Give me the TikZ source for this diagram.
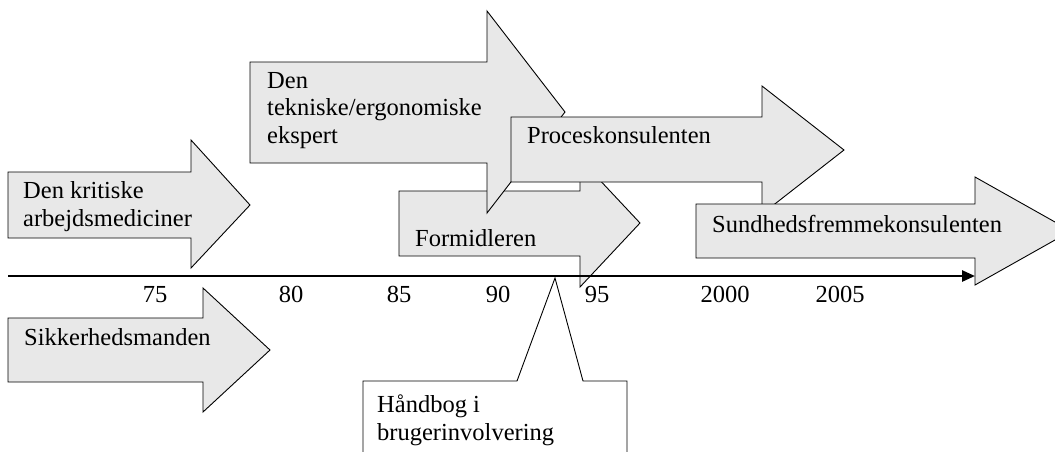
\documentclass[tikz,border=0pt]{standalone}
\usepackage{fontspec}
\setmainfont{Liberation Serif}
\usetikzlibrary{arrows.meta}
\definecolor{arrowfill}{RGB}{232,232,232}
\begin{document}
\begin{tikzpicture}[x=1pt,y=-1pt,
  blockarrow/.style={draw=black, fill=arrowfill, line width=0.9pt, line join=miter},
  % base anchor of a multi-line label sits on its last line
  lbl/.style={anchor=base west, inner sep=0pt, align=left,
    font=\fontsize{24.5}{27.5}\selectfont},
  yearlbl/.style={anchor=base, inner sep=0pt, font=\fontsize{24.5}{27.5}\selectfont},
  callout/.style={draw=black, fill=white, line width=0.9pt, line join=miter},
  timeline/.style={line width=2.6pt, -{Triangle[length=13pt,width=11pt]}}]
\useasboundingbox (0,0) rectangle (1055,451);
\clip (0,0) rectangle (1055,451);

% Block arrows, back to front
\draw[blockarrow] (8,172) -- (191,172) -- (191,140) -- (250,205) -- (191,268) -- (191,238) -- (8,238) -- cycle;
\node[lbl] (kritisk) at (23,226) {Den kritiske\\arbejdsmediciner};

\draw[blockarrow] (8,318) -- (203,318) -- (203,288) -- (270,350) -- (203,412) -- (203,382) -- (8,382) -- cycle;
\node[lbl] (sikkerhed) at (24,345) {Sikkerhedsmanden};

\draw[blockarrow] (399,191) -- (580,191) -- (580,159) -- (640,223) -- (580,287) -- (580,256) -- (399,256) -- cycle;
\node[lbl] (formidler) at (415,246) {Formidleren};

\draw[blockarrow] (250,62) -- (487,62) -- (487,11) -- (565,112) -- (487,213) -- (487,163) -- (250,163) -- cycle;
\node[lbl] (ekspert) at (267,143) {Den\\tekniske/ergonomiske\\ekspert};

\draw[blockarrow] (511,117) -- (762,117) -- (762,86) -- (844,150) -- (762,214) -- (762,182) -- (511,182) -- cycle;
\node[lbl] (proces) at (527,143) {Proceskonsulenten};

\draw[blockarrow] (696,204) -- (975,204) -- (975,177) -- (1071,231) -- (975,285) -- (975,258) -- (696,258) -- cycle;
\node[lbl] (sundhed) at (712,232) {Sundhedsfremmekonsulenten};

% Time axis
\coordinate (axstart) at (8,276);
\coordinate (axend) at (975,276);
\draw[timeline] (axstart) -- (axend);
\foreach \yr/\xx in {75/155, 80/291, 85/399, 90/498, 95/597, 2000/725, 2005/840}
  \node[yearlbl] (yr\yr) at (\xx,302) {\yr};

% Callout
\draw[callout] (363,460) -- (363,381) -- (517,381) -- (555,278) -- (583,381) -- (627,381) -- (627,460);
\node[lbl] (haandbog) at (377,440) {Håndbog i\\brugerinvolvering};
\end{tikzpicture}
\end{document}
